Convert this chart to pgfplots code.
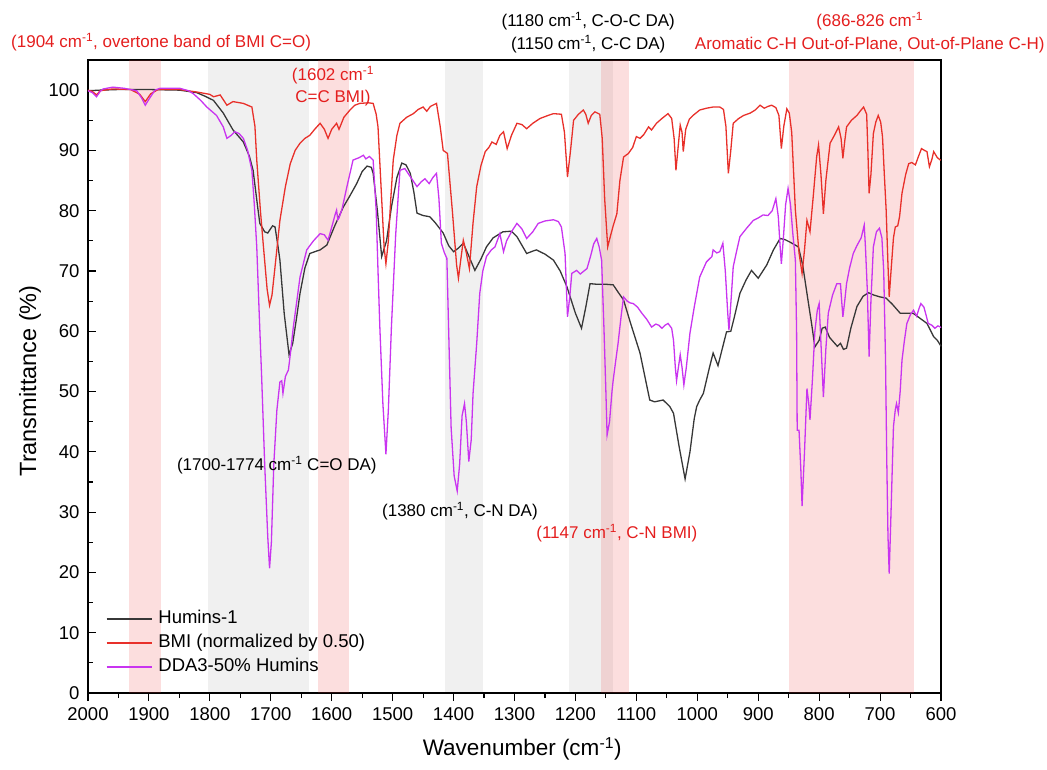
\documentclass[border=0pt]{standalone}
\usepackage{fontspec}
\setmainfont{Liberation Sans}
\usepackage{pgfplots}
\pgfplotsset{compat=1.18}
\definecolor{cblack}{RGB}{55,55,55}
\definecolor{cred}{RGB}{232,48,42}
\definecolor{cmag}{RGB}{201,52,240}
\definecolor{tred}{RGB}{228,30,30}
\definecolor{bandpink}{RGB}{235,60,60}
\begin{document}
\begin{tikzpicture}
\begin{axis}[
  at={(0pt,0pt)}, anchor=south west,
  scale only axis, width=853pt, height=633pt,
  xmin=600, xmax=2000, x dir=reverse, ymin=0, ymax=105,
  xtick={600,700,...,2000}, minor x tick num=1,
  ytick={0,10,...,100}, minor y tick num=1,
  xtick pos=bottom, ytick pos=left,
  tick align=inside,
  axis line style={line width=1.3pt},
  every tick/.style={line width=1.1pt, black},
  major tick length=8pt, minor tick length=5pt,
  every major x tick/.append style={yshift=-8pt},
  every minor x tick/.append style={yshift=-5pt},
  /pgf/number format/assume math mode=true,
  /pgf/number format/1000 sep={},
  tick label style={font=\fontsize{18.5}{20}\selectfont},
  xticklabel style={yshift=-11pt},
  yticklabel style={xshift=-5pt},
  xlabel={Wavenumber (cm\textsuperscript{-1})},
  ylabel={Transmittance (\%)},
  every axis x label/.style={at={(axis description cs:0.509,-0.0885)}, anchor=center, font=\fontsize{22.5}{24}\selectfont},
  every axis y label/.style={at={(axis description cs:-0.068,0.493)}, anchor=center, rotate=90, font=\fontsize{23.5}{25}\selectfont},
  clip=false,
  legend style={at={(0.021,0.136)}, anchor=north west, draw=none, fill=none, inner sep=0pt,
    font=\fontsize{18.5}{20}\selectfont, row sep=0pt, column sep=4pt,
    nodes={inner xsep=2pt, inner ysep=3.5pt, text height=13pt, text depth=4pt}},
  legend cell align=left,
  legend image code/.code={\draw[#1] (0pt,0pt) -- (45pt,0pt);},
]
% bands
\fill[black, fill opacity=0.06] (axis cs:1803,0) rectangle (axis cs:1637,105);
\fill[black, fill opacity=0.06] (axis cs:1414,0) rectangle (axis cs:1352,105);
\fill[black, fill opacity=0.06] (axis cs:1211,0) rectangle (axis cs:1138,105);
\fill[bandpink, fill opacity=0.17] (axis cs:1933,0) rectangle (axis cs:1880,105);
\fill[bandpink, fill opacity=0.17] (axis cs:1623,0) rectangle (axis cs:1571,105);
\fill[bandpink, fill opacity=0.17] (axis cs:1158,0) rectangle (axis cs:1112,105);
\fill[bandpink, fill opacity=0.17] (axis cs:850,0) rectangle (axis cs:644,105);

\addplot[cblack, line width=1.3pt] coordinates {
(2000,99.9) (1980,100.0) (1950,100.1) (1900,100.1) (1850,100.0) (1822,99.6) (1808,99.0) (1794,98.3) (1778,96.2) (1762,93.4) (1745,91.4) (1735,89) (1729,86.7) (1722,81) (1718,77.9) (1710,76.5) (1705,76.3) (1697,77.5) (1693,77.3) (1688,74) (1685,71.8) (1678,63) (1670,56.1) (1664,58) (1658,62) (1652,66.3) (1644,70.5) (1636,72.9) (1625,73.3) (1619,73.5) (1608,74.3) (1595,77.5) (1581,80.6) (1570,82.5) (1559,84.5) (1550,86.5) (1542,87.4) (1535,87.2) (1532,86.2) (1525,80) (1518,72.4) (1510,75) (1502,80.6) (1493,85.5) (1485,87.9) (1478,87.6) (1471,86.2) (1465,83) (1460,79.6) (1450,79.2) (1439,79.0) (1430,78) (1417,76.3) (1408,74.2) (1400,73.2) (1392,73.8) (1384,74.6) (1375,72.5) (1365,70.1) (1355,72) (1346,74.0) (1335,75.5) (1319,76.5) (1305,76.6) (1296,75.7) (1280,72.9) (1270,73.3) (1264,73.5) (1250,72.8) (1236,71.8) (1225,70) (1214,67.4) (1200,63) (1190,60.5) (1183,64) (1176,67.9) (1165,67.8) (1150,67.8) (1138,67.7) (1130,66.5) (1121,65.2) (1110,61.5) (1094,56.4) (1085,52) (1078,48.6) (1070,48.3) (1056,48.6) (1045,47.5) (1039,46.4) (1030,41) (1020,35.5) (1012,40) (1005,45.5) (1001,47.5) (996,48.6) (990,49.7) (980,54) (974,56.4) (966,54.3) (958,57.5) (952,59.9) (945,60) (940,62) (930,66.3) (920,68.5) (911,70.1) (900,68.8) (886,71.0) (875,73.5) (864,75.4) (856,75.2) (848,74.8) (834,74.0) (827,71) (820,66.3) (812,61) (807,57.4) (800,58.5) (795,60.5) (790,60.7) (783,59) (777,58.3) (770,57.5) (765,58) (760,57) (755,57.2) (748,60.5) (738,64.1) (728,65.8) (719,66.4) (710,66) (700,65.7) (690,65.5) (680,64.5) (667,63.0) (656,63) (646,63.0) (635,62.2) (623,61.3) (612,59.1) (606,58.5) (601,57.7) (600,57.5)
};
\addlegendentry{Humins-1}

\addplot[cred, line width=1.3pt] coordinates {
(2000,100) (1993,99.8) (1986,99.2) (1980,99.9) (1960,100.2) (1930,100.1) (1915,99.3) (1906,98.1) (1897,99.4) (1885,100.1) (1850,100.1) (1822,99.7) (1800,99.3) (1794,98.9) (1783,99.2) (1772,97.5) (1762,98.1) (1745,97.8) (1731,97.2) (1726,94) (1723,88.4) (1717,80) (1712,74.0) (1706,67) (1702,64.3) (1698,66) (1693,70.7) (1685,78.4) (1676,84) (1668,87.8) (1660,90) (1652,91.2) (1644,92) (1636,92.5) (1628,93.5) (1619,94.5) (1612,93.5) (1606,92.0) (1600,93.5) (1592,94.5) (1588,93.5) (1580,95.5) (1570,96.7) (1562,97.5) (1554,97.8) (1540,97.9) (1532,97.8) (1527,96) (1524,93.9) (1518,82) (1514,74) (1511,71.2) (1507,75) (1503,82) (1499,88.4) (1493,92.5) (1488,94.5) (1477,95.5) (1466,96.1) (1458,96.8) (1450,97.2) (1444,96.5) (1438,97.3) (1428,97.8) (1422,94) (1417,90.0) (1410,89.5) (1402,80) (1395,71) (1392,68.8) (1388,72) (1384,75.1) (1379,73) (1374,70.4) (1368,78) (1362,84.0) (1355,87.5) (1348,89.8) (1342,90.5) (1337,91.4) (1330,91) (1324,92.5) (1318,93.1) (1312,90.3) (1305,92.5) (1296,94.5) (1288,94.3) (1280,93.6) (1270,94.5) (1258,95.3) (1245,95.8) (1236,96.1) (1223,96.0) (1218,93) (1213,85.6) (1208,90) (1203,95.0) (1195,96) (1187,96.7) (1183,96) (1179,94.5) (1174,95.8) (1168,96.4) (1160,96) (1156,92) (1152,82) (1147,74.0) (1142,76) (1138,77.5) (1132,79.5) (1127,85) (1121,88.9) (1113,89.5) (1106,90.5) (1100,92.3) (1094,92.0) (1088,92.6) (1080,93.9) (1075,93.4) (1067,94.5) (1058,95.3) (1048,96.1) (1042,95.3) (1038,92) (1035,86.7) (1031,91) (1028,94.2) (1025,93) (1023,89.8) (1019,93.5) (1013,95.2) (1007,95.8) (996,96.7) (985,97.0) (974,97.2) (963,97.2) (957,96.8) (953,94) (949,86.2) (945,90) (941,94.5) (932,95.3) (924,95.8) (913,96.2) (905,96.7) (897,97.5) (890,97) (884,97.3) (878,97.5) (871,97.1) (866,95.8) (862,90.3) (858,94) (853,96.9) (849,96.2) (845,93) (839,80.1) (833,73) (828,69.6) (824,73.5) (820,78.4) (817,77.3) (815,76.5) (810,82) (804,89) (801,90.9) (797,86) (793,79.5) (789,85) (782,91.2) (775,92.5) (768,93.9) (764,92) (761,88.7) (758,91.5) (755,93.9) (747,95) (738,95.8) (732,96.6) (727,97.2) (722,96) (720,90) (718,82.9) (715,86) (711,92.8) (707,94.7) (703,95.8) (699,94.7) (696,92.3) (693,86) (690,80.1) (687,71) (685,65.7) (682,70) (678,75.5) (675,77.3) (671,77.5) (668,79) (664,82.9) (658,86) (653,87.8) (648,88) (642,87.6) (637,89) (632,90.3) (627,90) (623,89.8) (619,87.3) (615,88.5) (612,89.8) (606,88.8) (601,88.4) (600,88.4)
};
\addlegendentry{BMI (normalized by 0.50)}

\addplot[cmag, line width=1.3pt] coordinates {
(2000,99.9) (1993,99.6) (1986,98.9) (1980,99.8) (1975,100.2) (1959,100.5) (1940,100.3) (1920,99.9) (1912,98.7) (1906,97.5) (1898,98.8) (1890,100) (1882,100.3) (1849,100.3) (1835,99.9) (1827,99.4) (1815,98.3) (1805,97.2) (1789,95.8) (1778,93.9) (1772,92.0) (1765,92.5) (1759,93.1) (1752,92.8) (1745,92.0) (1738,90) (1731,86.7) (1727,81) (1723,74.0) (1719,63) (1715,52.5) (1710,38) (1705,26) (1702,20.7) (1699,25) (1695,38) (1690,46.9) (1685,51.6) (1682,51.8) (1680,49.7) (1676,52.5) (1671,53.6) (1667,57) (1663,60.7) (1652,69) (1641,73.5) (1630,75) (1619,76.2) (1612,76) (1606,75.1) (1598,78) (1594,79.5) (1592,80.1) (1590,78.5) (1588,78.8) (1583,80.3) (1575,84) (1565,88.4) (1555,88.8) (1548,89.2) (1544,88.6) (1538,89) (1532,88.4) (1527,80) (1524,70) (1521,60.7) (1516,48) (1511,39.6) (1507,47) (1502,60.7) (1495,76) (1488,86.7) (1480,87.0) (1470,85.5) (1460,84.0) (1453,84.8) (1447,85.3) (1440,84.5) (1434,85.5) (1428,86.2) (1424,82) (1420,74.6) (1415,73) (1411,72.1) (1408,60) (1404,44) (1399,36) (1394,33.5) (1390,38) (1386,46) (1382,48) (1379,45) (1375,38.4) (1371,42) (1368,49.7) (1362,58) (1357,66.3) (1352,70) (1346,72.4) (1338,73.5) (1332,74.0) (1324,76.2) (1318,73.2) (1313,75) (1305,76.5) (1296,77.9) (1288,77) (1280,75.4) (1270,76.5) (1261,77.9) (1250,78.3) (1236,78.5) (1228,78.2) (1223,77.3) (1217,72.9) (1213,62.4) (1209,66) (1206,69.6) (1198,70.1) (1192,69.5) (1186,70) (1181,70.4) (1175,72.5) (1170,74.5) (1165,75.4) (1161,74) (1157,71.8) (1153,60) (1150,50) (1148,42.8) (1144,45) (1140,50) (1138,51.9) (1134,55) (1130,58.0) (1125,62.5) (1121,65.7) (1115,65) (1110,64.7) (1105,64.6) (1098,64) (1091,63.0) (1083,62) (1075,60.7) (1068,61.2) (1063,61) (1058,60.5) (1053,61) (1048,61.3) (1042,60.5) (1039,58.5) (1036,54) (1034,51.8) (1031,54) (1028,56.1) (1025,54) (1022,51.1) (1018,54) (1012,59.7) (1005,64) (996,69.0) (985,71.5) (976,72.4) (974,73.5) (968,73) (963,73.2) (958,74.6) (954,70) (950,63) (948,60.2) (944,66) (941,70.7) (935,73.5) (930,75.7) (919,77.1) (908,78.4) (900,78.8) (892,79.3) (884,79.2) (877,80) (871,82.0) (867,79) (864,74) (862,71.2) (859,75) (855,81) (851,83.7) (847,81) (843,76) (839,71.8) (837,60) (836,43.6) (833,43.6) (830,37) (828,31.0) (824,40) (820,50.5) (817,48) (815,45.3) (811,52) (807,60) (803,63.5) (800,64.6) (797,58) (793,49.1) (789,57) (785,63.0) (778,66) (771,67.9) (765,67.9) (763,65) (761,62.4) (758,65) (755,67.9) (750,70.5) (744,72.9) (738,74.2) (731,75.5) (726,77.6) (724,74) (721,67) (718,55.8) (715,65) (711,74.0) (706,76.5) (701,77.1) (697,75.5) (694,70) (691,55) (689,38.6) (687,26) (685,19.8) (682,30) (678,44.2) (675,47) (673,48.0) (670,46.5) (667,50) (664,55.2) (660,58.5) (656,61.3) (650,62.8) (645,63.5) (640,62.5) (636,63.8) (633,64.6) (628,64) (624,62.5) (621,61.3) (615,61) (610,60.5) (605,60.9) (601,60.7) (600,60.6)
};
\addlegendentry{DDA3-50\% Humins}

% annotations
\node[tred, font=\fontsize{17}{22}\selectfont, anchor=center] at (axis cs:1880,108.0) {(1904 cm\textsuperscript{-1}, overtone band of BMI C=O)};
\node[tred, font=\fontsize{17}{22}\selectfont, align=center, anchor=center] at (axis cs:1598,100.7) {(1602 cm\textsuperscript{-1}\\C=C BMI)};
\node[black, font=\fontsize{17}{23}\selectfont, align=center, anchor=center] at (axis cs:1179,109.5) {(1180 cm\textsuperscript{-1}, C-O-C DA)\\(1150 cm\textsuperscript{-1}, C-C DA)};
\node[tred, font=\fontsize{17}{23}\selectfont, align=center, anchor=center] at (axis cs:717,109.5) {(686-826 cm\textsuperscript{-1}\\Aromatic C-H Out-of-Plane, Out-of-Plane C-H)};
\node[black, font=\fontsize{17}{22}\selectfont, anchor=center] at (axis cs:1690,37.8) {(1700-1774 cm\textsuperscript{-1} C=O DA)};
\node[black, font=\fontsize{17}{22}\selectfont, anchor=center] at (axis cs:1389.5,30.2) {(1380 cm\textsuperscript{-1}, C-N DA)};
\node[tred, font=\fontsize{17}{22}\selectfont, anchor=center] at (axis cs:1132,26.5) {(1147 cm\textsuperscript{-1}, C-N BMI)};
\end{axis}
\pgfresetboundingbox
\useasboundingbox (-88pt,-76pt) rectangle (959pt,693pt);
\end{tikzpicture}
\end{document}
